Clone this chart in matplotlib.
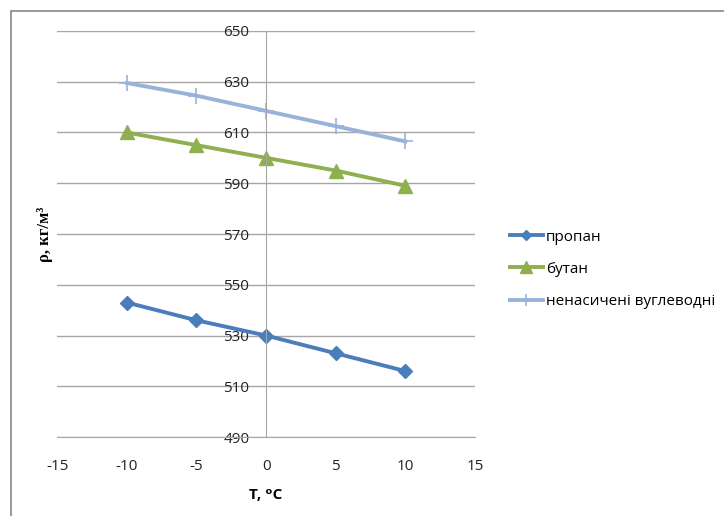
import matplotlib.pyplot as plt
from matplotlib.patches import Rectangle

plt.rcParams['font.family'] = ['Open Sans', 'DejaVu Sans']
plt.rcParams['axes.unicode_minus'] = False

temps = [-10, -5, 0, 5, 10]
propane = [543, 536, 530, 523, 516]
butane = [610, 605, 600, 595, 589]
unsaturated = [629.5, 624.5, 618.5, 612.5, 606.5]

labels = ['пропан', 'бутан', 'ненасичені вуглеводні']
x_ticks = [-15, -10, -5, 0, 5, 10, 15]
y_ticks = [490, 510, 530, 550, 570, 590, 610, 630, 650]

fig = plt.figure(figsize=(7.24, 5.16), dpi=100)
ax = fig.add_axes([0.079, 0.153, 0.577, 0.787])

ax.plot(temps, propane, color='#4A7EBB', lw=2.8, marker='D', ms=7, label=labels[0])
ax.plot(temps, butane, color='#8EB04E', lw=2.8, marker='^', ms=10, label=labels[1])
ax.plot(temps, unsaturated, color='#98B3DA', lw=2.8, marker='+', ms=11, mew=1.2, label=labels[2])

ax.set_xlim(-15, 15)
ax.set_ylim(490, 650)
ax.set_xticks(x_ticks)
ax.set_yticks(y_ticks)
ax.grid(axis='y', color='#a6a6a6', lw=1)
ax.set_axisbelow(True)

for s in ['top', 'right']:
    ax.spines[s].set_visible(False)
ax.spines['left'].set_position(('data', 0))
ax.spines['left'].set_color('#a6a6a6')
ax.spines['bottom'].set_color('#a6a6a6')
ax.tick_params(length=0, labelsize=11, colors='#222222')
ax.tick_params(axis='x', pad=16)
ax.tick_params(axis='y', pad=12)

ax.set_xlabel('T, ᵒC', fontsize=11, fontweight='bold', labelpad=10)
fig.text(0.062, 0.545, 'ρ, кг/м³', rotation=90, fontsize=12, fontweight='bold',
         family=['Liberation Serif', 'DejaVu Serif'], ha='center', va='center')

ax.legend(loc='center left', bbox_to_anchor=(1.05, 0.413), frameon=False,
          fontsize=11, handlelength=2.2, labelspacing=1.12, handletextpad=0.2,
          markerscale=0.8)

fig.patches.append(Rectangle((0.015, -0.1), 1.2, 1.079, transform=fig.transFigure,
                             fill=False, edgecolor='#888888', lw=1.2))

fig.savefig('out.png', dpi=100)
